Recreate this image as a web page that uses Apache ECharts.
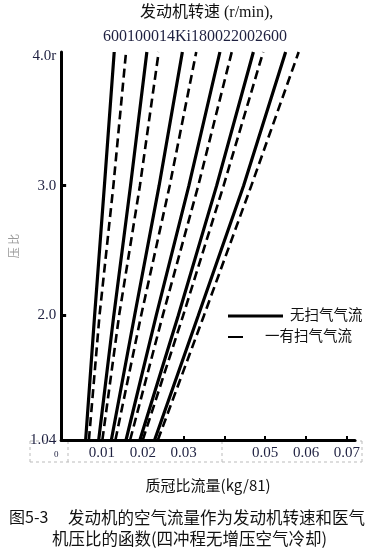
<!DOCTYPE html>
<html>
<head>
<meta charset="utf-8">
<script src="https://cdn.jsdelivr.net/npm/echarts@6/dist/echarts.min.js"></script>
<style>
html,body{margin:0;padding:0;background:#fff;}
#c{width:379px;height:548px;}
</style>
</head>
<body>
<div id="c"></div>
<script>
// pressure-ratio levels at which each line's flow value was read
const pressureLevels = [1.04, 2.0, 3.0, 4.03];
// 无扫气气流 (solid lines), one per engine speed
const solid1 = [0.0060, 0.0082, 0.0106, 0.0130];
const solid2 = [0.0092, 0.0129, 0.0170, 0.0210];
const solid3 = [0.0123, 0.0180, 0.0240, 0.0297];
const solid4 = [0.0159, 0.0233, 0.0313, 0.0389];
const solid5 = [0.0193, 0.0287, 0.0381, 0.0471];
const solid6 = [0.0229, 0.0336, 0.0447, 0.0550];
// 有扫气气流 (dashed lines)
const dashed1 = [0.0068, 0.0094, 0.0128, 0.0159];
const dashed2 = [0.0101, 0.0142, 0.0193, 0.0239];
const dashed3 = [0.0133, 0.0196, 0.0266, 0.0331];
const dashed4 = [0.0169, 0.0249, 0.0336, 0.0418];
const dashed5 = [0.0200, 0.0299, 0.0398, 0.0495];
const dashed6 = [0.0237, 0.0350, 0.0466, 0.0582];
// tick labels
const xTickValues = [0, 0.01, 0.02, 0.03, 0.05, 0.06, 0.07];
const xTickLabels = ['0', '0.01', '0.02', '0.03', '0.05', '0.06', '0.07'];
const yTickValues = [1.04, 2.0, 3.0, 4.0];
const yTickLabels = ['1.04', '2.0', '3.0', '4.0r'];

const solids = [solid1, solid2, solid3, solid4, solid5, solid6];
const dasheds = [dashed1, dashed2, dashed3, dashed4, dashed5, dashed6];

const serif = "'Liberation Serif','Noto Sans CJK SC',serif";
const cjk = "'Noto Sans CJK SC',sans-serif";

const series = [];
solids.forEach((arr) => {
  series.push({
    type: 'line', name: '无扫气气流', showSymbol: false, silent: true,
    data: arr.map((x, j) => [x, pressureLevels[j]]),
    lineStyle: { color: '#000', width: 3.2 }
  });
});
dasheds.forEach((arr) => {
  series.push({
    type: 'line', name: '有扫气气流', showSymbol: false, silent: true,
    data: arr.map((x, j) => [x, pressureLevels[j]]),
    lineStyle: { color: '#000', width: 2.6, type: [9, 5] }
  });
});

const chart = echarts.init(document.getElementById('c'));
chart.setOption({
  animation: false,
  backgroundColor: '#fff',
  grid: { left: 57, right: 24, top: 52, bottom: 108 },
  xAxis: {
    type: 'value', min: 0, max: 0.072,
    splitLine: { show: false },
    axisLine: { lineStyle: { color: '#000', width: 3 } },
    axisTick: { show: true, inside: true, length: 4, customValues: [0.03, 0.04, 0.05, 0.06, 0.07], lineStyle: { color: '#000', width: 2 } },
    axisLabel: {
      customValues: xTickValues,
      margin: 6,
      color: '#1e2040',
      fontFamily: serif,
      fontSize: 15,
      formatter: function (v) {
        const i = xTickValues.findIndex(t => Math.abs(t - v) < 1e-9);
        const s = i >= 0 ? xTickLabels[i] : '';
        return s === '0' ? '{z|0}' : s;
      },
      rich: { z: { fontSize: 9, fontFamily: serif, color: '#1e2040', padding: [4, 10, 0, 0] } }
    },
    name: '质冠比流量(kg/81)',
    nameLocation: 'middle',
    nameGap: 38,
    nameTextStyle: { color: '#111', fontSize: 15, fontFamily: cjk }
  },
  yAxis: {
    type: 'value', min: 1.04, max: 4.03,
    splitLine: { show: false },
    axisLine: { lineStyle: { color: '#000', width: 3 } },
    axisTick: { show: true, inside: true, length: 5, customValues: [2.0, 3.0], lineStyle: { color: '#000', width: 3 } },
    axisLabel: {
      customValues: yTickValues,
      margin: 5,
      color: '#1e2040',
      fontFamily: serif,
      fontSize: 15,
      formatter: function (v) {
        const i = yTickValues.findIndex(t => Math.abs(t - v) < 1e-9);
        return i >= 0 ? yTickLabels[i] : '';
      }
    },
    name: '压 比',
    nameLocation: 'middle',
    nameRotate: 90,
    nameGap: 31,
    nameTextStyle: { color: '#999', fontSize: 11, fontFamily: cjk, padding: [0, 0, 0, 0] }
  },
  series: series,
  graphic: [
    { type: 'text', left: 140, top: 5, style: { text: '发动机转速 (r/min),', font: "16px " + serif, fill: '#111' } },
    { type: 'text', left: 103, top: 29, style: { text: '600100014Ki180022002600', font: "16px " + serif, fill: '#1e2040' } },
    // legend
    { type: 'line', shape: { x1: 228, y1: 316, x2: 283, y2: 316 }, style: { stroke: '#000', lineWidth: 3 } },
    { type: 'text', left: 290, top: 307, style: { text: '无扫气气流', font: "14.5px " + cjk, fill: '#111' } },
    { type: 'line', shape: { x1: 228, y1: 337, x2: 243, y2: 337 }, style: { stroke: '#000', lineWidth: 2 } },
    { type: 'text', left: 265, top: 328, style: { text: '一有扫气气流', font: "14.5px " + cjk, fill: '#111' } },
    // dashed scan-box around x tick labels
    { type: 'polyline', shape: { points: [[30, 441], [362, 441]] }, style: { stroke: '#bbb', lineWidth: 1, lineDash: [3, 3] }, z: -1 },
    { type: 'polyline', shape: { points: [[30, 462], [362, 462]] }, style: { stroke: '#bbb', lineWidth: 1, lineDash: [3, 3] } },
    { type: 'polyline', shape: { points: [[30, 441], [30, 462]] }, style: { stroke: '#bbb', lineWidth: 1, lineDash: [3, 3] } },
    { type: 'polyline', shape: { points: [[68, 441], [68, 462]] }, style: { stroke: '#bbb', lineWidth: 1, lineDash: [3, 3] } },
    { type: 'polyline', shape: { points: [[222, 441], [222, 462]] }, style: { stroke: '#bbb', lineWidth: 1, lineDash: [3, 3] } },
    { type: 'polyline', shape: { points: [[362, 441], [362, 462]] }, style: { stroke: '#bbb', lineWidth: 1, lineDash: [3, 3] } },
    // caption
    { type: 'text', left: 9, top: 509, style: { text: '图5-3', font: "16px " + cjk, fill: '#111' } },
    { type: 'text', left: 68, top: 509, style: { text: '发动机的空气流量作为发动机转速和医气', font: "16.5px " + cjk, fill: '#111' } },
    { type: 'text', left: 52, top: 530, style: { text: '机压比的函数(四冲程无增压空气冷却)', font: "16.5px " + cjk, fill: '#111' } }
  ]
});
</script>
</body>
</html>
